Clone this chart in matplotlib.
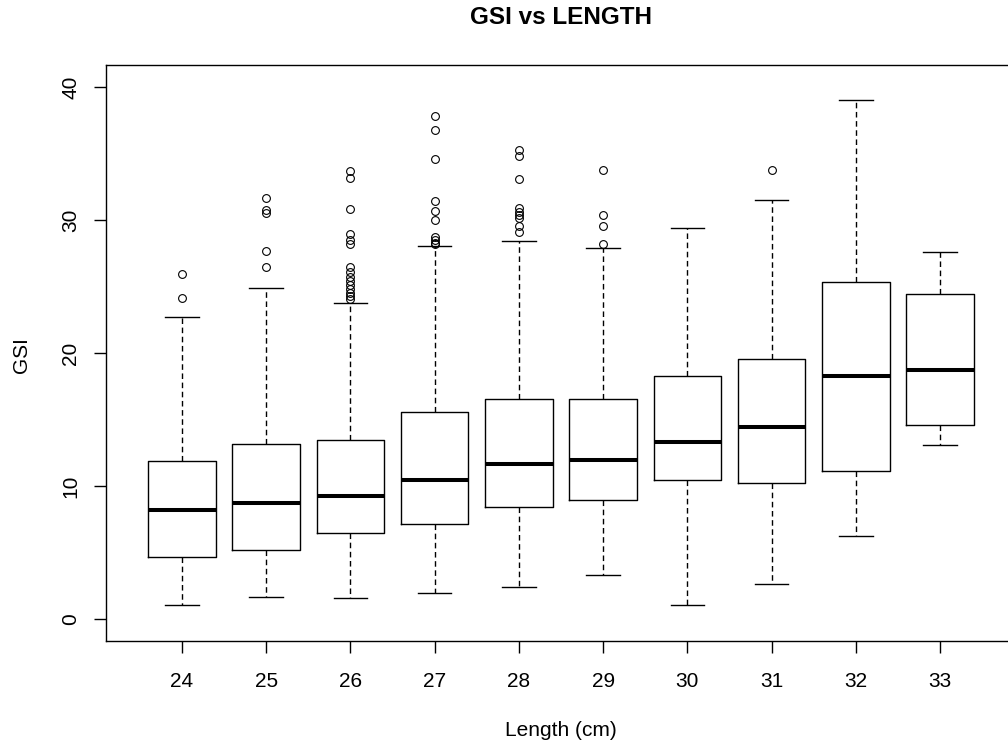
import matplotlib
matplotlib.use("Agg")
import matplotlib.pyplot as plt

plt.rcParams["font.family"] = ["Liberation Sans", "DejaVu Sans"]

# Length classes (cm) and the box statistics of GSI
lengths = [24, 25, 26, 27, 28, 29, 30, 31, 32, 33]
q1 = [4.67, 5.17, 6.45, 7.15, 8.40, 8.98, 10.46, 10.26, 11.14, 14.57]
medians = [8.18, 8.70, 9.28, 10.46, 11.64, 11.94, 13.29, 14.47, 18.31, 18.76]
q3 = [11.92, 13.19, 13.49, 15.58, 16.53, 16.53, 18.31, 19.56, 25.36, 24.45]
whisker_lo = [1.05, 1.66, 1.56, 1.93, 2.43, 3.31, 1.05, 2.63, 6.25, 13.09]
whisker_hi = [22.70, 24.93, 23.78, 28.09, 28.47, 27.89, 29.45, 31.50, 39.03, 27.59]
outliers = [
    [25.94, 24.18],
    [31.70, 30.77, 30.52, 27.69, 26.49],
    [33.71, 33.16, 30.83, 28.95, 28.55, 28.20, 26.50, 26.10, 25.70, 25.40,
     25.10, 24.80, 24.55, 24.30, 24.10],
    [37.87, 36.79, 34.64, 31.45, 30.70, 30.00, 28.75, 28.50, 28.30, 28.20],
    [35.30, 34.80, 33.10, 30.90, 30.65, 30.40, 30.15, 29.60, 29.15],
    [33.76, 30.42, 29.57, 28.19],
    [],
    [33.76],
    [],
    [],
]

stats = []
for i in range(len(lengths)):
    stats.append({
        "med": medians[i], "q1": q1[i], "q3": q3[i],
        "whislo": whisker_lo[i], "whishi": whisker_hi[i],
        "fliers": outliers[i], "label": str(lengths[i]),
    })

W, H = 1008, 742
fig = plt.figure(figsize=(W / 100, H / 100), dpi=100)
ax = fig.add_axes([106 / W, 101 / H, 910 / W, 576 / H])

ax.bxp(
    stats,
    positions=range(1, len(lengths) + 1),
    widths=0.8,
    boxprops=dict(color="black", linewidth=1.0),
    medianprops=dict(color="black", linewidth=2.9, solid_capstyle="butt"),
    whiskerprops=dict(color="black", linewidth=1.0, linestyle=(0, (4.0, 2.6))),
    capprops=dict(color="black", linewidth=1.0),
    flierprops=dict(marker="o", markerfacecolor="none", markeredgecolor="black",
                    markersize=5.6, markeredgewidth=0.8, linestyle="none"),
)

ax.set_xlim(0.1, 10.9)
ax.set_ylim(-1.655, 41.68)
ax.set_yticks([0, 10, 20, 30, 40])
ax.set_xticks(range(1, len(lengths) + 1))
ax.set_xticklabels([str(v) for v in lengths])
for lab in ax.get_yticklabels():
    lab.set_rotation(90)
    lab.set_va("center")
ax.tick_params(direction="out", length=8.5, width=1.0, labelsize=15, pad=14)
ax.tick_params(axis="y", pad=10)
for sp in ax.spines.values():
    sp.set_linewidth(1.0)

fig.text(561 / W, 1 - 18 / H, "GSI vs LENGTH", ha="center", va="center",
         fontsize=17.5, fontweight="bold")
fig.text(561 / W, 1 - 730 / H, "Length (cm)", ha="center", va="center", fontsize=15)
fig.text(22 / W, 1 - 355 / H, "GSI", ha="center", va="center", rotation=90, fontsize=15)

fig.savefig("out.png", dpi=100)
